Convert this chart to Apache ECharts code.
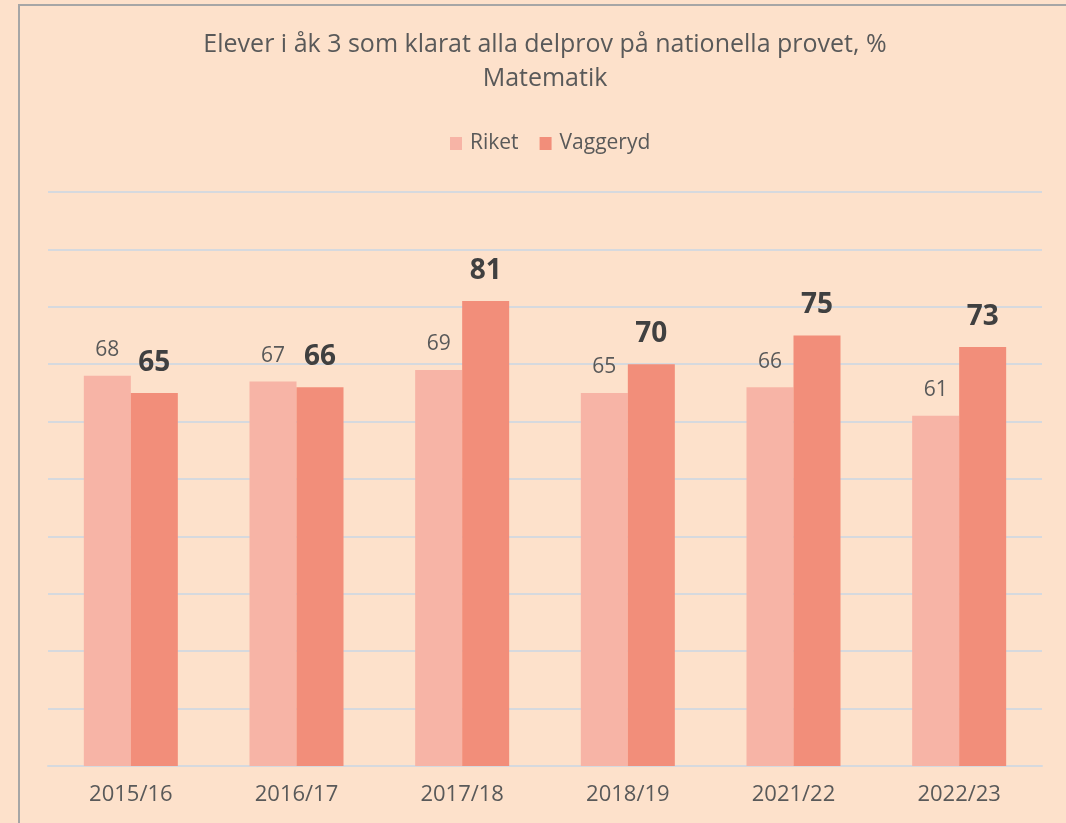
<!DOCTYPE html>
<html>
<head>
<meta charset="utf-8">
<script src="https://cdn.jsdelivr.net/npm/echarts@6/dist/echarts.min.js"></script>
<style>
html,body{margin:0;padding:0;background:#FDE1CB;}
#c{width:1066px;height:823px;}
</style>
</head>
<body>
<div id="c"></div>
<script>
const titleLines = ["Elever i åk 3 som klarat alla delprov på nationella provet, %", "Matematik"];
const categories = ["2015/16", "2016/17", "2017/18", "2018/19", "2021/22", "2022/23"];
const riket = [68, 67, 69, 65, 66, 61];
const vaggeryd = [65, 66, 81, 70, 75, 73];
const seriesNames = ["Riket", "Vaggeryd"];

const FONT = "Open Sans";
const chart = echarts.init(document.getElementById('c'), null, {renderer: 'canvas'});
chart.setOption({
  backgroundColor: '#FDE1CB',
  animation: false,
  title: {
    text: titleLines.join('\n'),
    left: 545,
    textAlign: 'center',
    top: 28,
    padding: 0,
    textStyle: {fontFamily: FONT, fontSize: 25, fontWeight: 'normal', color: '#595959', lineHeight: 34}
  },
  legend: {
    data: seriesNames,
    left: 450,
    top: 133,
    padding: 0,
    itemWidth: 12,
    itemHeight: 13,
    itemGap: 21,
    icon: 'rect',
    textStyle: {fontFamily: FONT, fontSize: 21, color: '#595959', padding: [0, 0, 0, 3]}
  },
  grid: {left: 48, right: 24, top: 192, bottom: 57, containLabel: false},
  xAxis: {
    type: 'category',
    data: categories,
    axisLine: {show: true, lineStyle: {color: '#D6D9DE', width: 2}},
    axisTick: {show: false},
    axisLabel: {fontFamily: FONT, fontSize: 22, color: '#595959', margin: 18}
  },
  yAxis: {
    type: 'value',
    min: 0,
    max: 100,
    interval: 10,
    axisLine: {show: false},
    axisTick: {show: false},
    axisLabel: {show: false},
    splitLine: {lineStyle: {color: '#D6D9DE', width: 2}}
  },
  series: [
    {
      name: seriesNames[0],
      type: 'bar',
      data: riket,
      barWidth: 47,
      barGap: '0%',
      itemStyle: {color: '#F7B4A6'},
      label: {show: true, position: 'top', distance: 15, fontFamily: FONT, fontSize: 21, color: '#595959'}
    },
    {
      name: seriesNames[1],
      type: 'bar',
      data: vaggeryd,
      barWidth: 47,
      barGap: '0%',
      itemStyle: {color: '#F28E7A'},
      label: {show: true, position: 'top', distance: 16, fontFamily: FONT, fontSize: 28, fontWeight: 'bold', color: '#404040'}
    }
  ],
  graphic: [
    {
      type: 'polyline',
      shape: {points: [[19, 823], [19, 5], [1066, 5]]},
      style: {stroke: '#A6A6A6', lineWidth: 2, fill: null},
      silent: true
    }
  ]
});
</script>
</body>
</html>
